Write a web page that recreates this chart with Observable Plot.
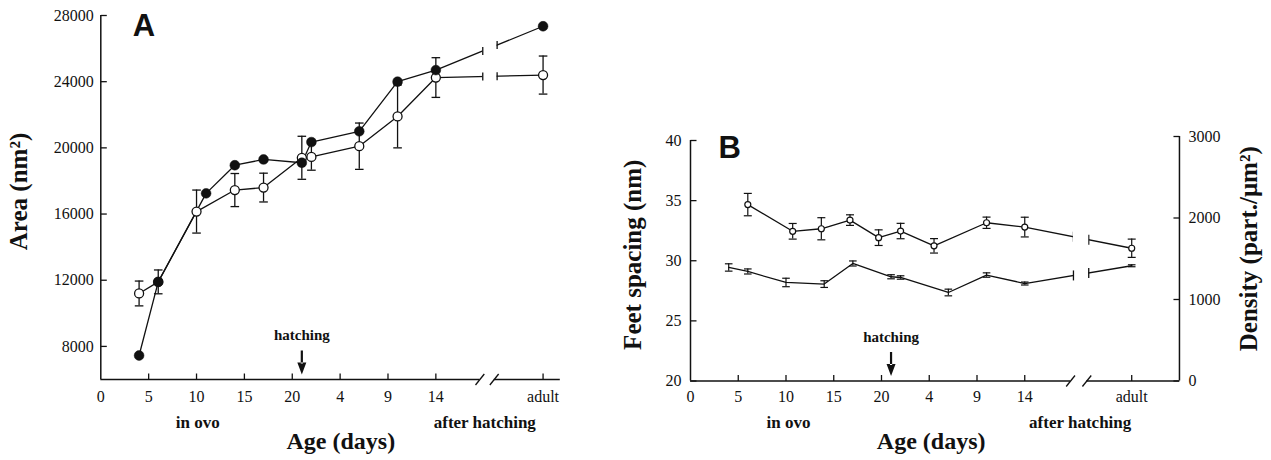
<!DOCTYPE html>
<html><head><meta charset="utf-8">
<script src="https://cdn.jsdelivr.net/npm/d3@7"></script>
<script src="https://cdn.jsdelivr.net/npm/@observablehq/plot@0.6"></script>
<style>
body{margin:0;background:#fff;}
#wrap{position:relative;width:1271px;height:460px;overflow:hidden;background:#fff;}
#wrap svg{position:absolute;top:0;overflow:visible;}
</style></head><body><div id="wrap"></div>
<script>
// ---------------- data ----------------
const xTickDays = [0, 5, 10, 15, 20, 25, 30, 35, 46.2];
const xTickLabels = ["0", "5", "10", "15", "20", "4", "9", "14", "adult"];
const hatchDay = 21;

// Panel A : Area (nm²)
const areaTicks = [8000, 12000, 16000, 20000, 24000, 28000];
const areaFilledDays = [4, 6, 11, 14, 17, 21, 22, 27, 31, 35, 46.2];
const areaFilled = [7450, 11900, 17250, 18950, 19300, 19100, 20350, 21000, 24000, 24700, 27350];
const areaOpenDays = [4, 6, 10, 14, 17, 21, 22, 27, 31, 35, 46.2];
const areaOpen = [11200, 11900, 16150, 17450, 17600, 19400, 19450, 20100, 21900, 24250, 24400];
const areaOpenErr = [750, 720, 1300, 1000, 870, 1300, 800, 1400, 1900, 1200, 1150];

// Panel B : Feet spacing (nm), left axis
const spacingTicks = [20, 25, 30, 35, 40];
const spacingDays = [6, 10.7, 13.7, 16.7, 19.7, 22, 25.5, 31, 35, 46.2];
const spacing = [34.67, 32.45, 32.66, 33.38, 31.92, 32.47, 31.24, 33.16, 32.8, 31.04];
const spacingErr = [0.93, 0.65, 0.92, 0.44, 0.65, 0.64, 0.6, 0.47, 0.82, 0.76];

// Panel B : Density (part./µm²), right axis
const densityTicks = [0, 1000, 2000, 3000];
const densityDays = [4, 6, 10, 14, 17, 21, 22, 27, 31, 35, 46.2];
const density = [1393, 1344, 1209, 1189, 1442, 1279, 1270, 1086, 1300, 1196, 1414];
const densityErr = [45, 31, 52, 41, 31, 25, 21, 41, 27, 18, 12];

// axis / line breaks (in days)
const axisBreakA = [39.6, 41.1], lineBreakA = [39.9, 41.4];
const axisBreakB = [39.8, 41.5], lineBreakB = [40.1, 41.7];
const xEndA = 48.0, xEndB = 51.2;

// ---------------- helpers ----------------
const rows = (days, vals, errs) => days.map((d, i) => ({d, v: vals[i], e: errs ? errs[i] : 0}));
const caps = (r) => r.flatMap(o => [{d: o.d, v: o.v - o.e}, {d: o.d, v: o.v + o.e}]);
const lineAt = (r, x) => { const a = r[r.length - 2], b = r[r.length - 1]; return a.v + (b.v - a.v) * (x - a.d) / (b.d - a.d); };
const breakTicks = (r, br) => br.map(x => ({d: x, v: lineAt(r, x)}));
const R = (s) => Math.sqrt(s / Math.PI);
const symV = {draw(c, s) { const h = R(s); c.moveTo(0, -h); c.lineTo(0, h); }};
const symH = {draw(c, s) { const h = R(s); c.moveTo(-h, 0); c.lineTo(h, 0); }};
const symUp = {draw(c, s) { const h = R(s); c.moveTo(0, 0); c.lineTo(0, -h); }};
const symRight = {draw(c, s) { const h = R(s); c.moveTo(0, 0); c.lineTo(h, 0); }};
const symLeft = {draw(c, s) { const h = R(s); c.moveTo(0, 0); c.lineTo(-h, 0); }};
const symSlash = {draw(c, s) { const h = R(s); c.moveTo(-0.8 * h, h); c.lineTo(0.8 * h, -h); }};
const symArrow = {draw(c, s) {
  c.moveTo(0, 0); c.lineTo(-4.5, -12); c.lineTo(4.5, -12); c.closePath();
  c.moveTo(-1.1, -11); c.lineTo(1.1, -11); c.lineTo(1.1, -24); c.lineTo(-1.1, -24); c.closePath();
}};
const serif = "'Liberation Serif', 'Times New Roman', serif";
const sans = "'Liberation Sans', Arial, sans-serif";
const K = "#111";
const TICK_FS = 16;

function xAxisMarks(yMin, axisBreak, xEnd, tickDy) {
  return [
    Plot.ruleY([[0, axisBreak[0]], [axisBreak[1], xEnd]], {y: () => yMin, x1: d => d[0], x2: d => d[1], stroke: K, strokeWidth: 1.7}),
    Plot.dot(axisBreak, {x: d => d, frameAnchor: "bottom", symbol: symSlash, r: 5.5, stroke: K, strokeWidth: 1.3, fill: "none"}),
    Plot.dot(xTickDays.slice(1), {x: d => d, frameAnchor: "bottom", symbol: symUp, r: 6, stroke: K, strokeWidth: 1.3, fill: "none"}),
    Plot.text(xTickDays, {x: d => d, text: (d, i) => xTickLabels[i], frameAnchor: "bottom", dy: tickDy, lineAnchor: "bottom", fontSize: TICK_FS, fontFamily: serif, fill: K})
  ];
}

// ---------------- Panel A ----------------
const aFilled = rows(areaFilledDays, areaFilled);
const aOpen = rows(areaOpenDays, areaOpen, areaOpenErr);

const plotA = Plot.plot({
  width: 640, height: 460,
  marginLeft: 100.3, marginRight: 640 - 100.3 - 9.573 * xEndA, marginTop: 15, marginBottom: 81,
  x: {domain: [0, xEndA], axis: null},
  y: {domain: [6000, 28000], axis: null},
  style: {background: "transparent", overflow: "visible", fontFamily: serif},
  marks: [
    Plot.line(aOpen, {x: "d", y: "v", stroke: K, strokeWidth: 1.3}),
    Plot.line(aFilled, {x: "d", y: "v", stroke: K, strokeWidth: 1.3}),
    Plot.rect([lineBreakA], {x1: d => d[0], x2: d => d[1], fill: "white", insetBottom: 14}),
    Plot.dot([...breakTicks(aOpen, lineBreakA), ...breakTicks(aFilled, lineBreakA)], {x: "d", y: "v", symbol: symV, r: 4, stroke: K, strokeWidth: 1.3, fill: "none"}),
    Plot.ruleX(aOpen, {x: "d", y1: d => d.v - d.e, y2: d => d.v + d.e, stroke: K, strokeWidth: 1.3}),
    Plot.dot(caps(aOpen), {x: "d", y: "v", symbol: symH, r: 4.3, stroke: K, strokeWidth: 1.3, fill: "none"}),
    Plot.dot(aOpen, {x: "d", y: "v", r: 4.5, fill: "white", stroke: K, strokeWidth: 1.3}),
    Plot.dot(aFilled, {x: "d", y: "v", r: 4.9, fill: K, stroke: K, strokeWidth: 0.5}),
    // axes
    Plot.ruleX([0], {stroke: K, strokeWidth: 1.5}),
    Plot.dot(areaTicks, {y: d => d, frameAnchor: "left", symbol: symRight, r: 6, stroke: K, strokeWidth: 1.3, fill: "none"}),
    Plot.text(areaTicks, {y: d => d, text: d => String(d), frameAnchor: "left", dx: -7, textAnchor: "end", lineAnchor: "middle", fontSize: TICK_FS, fontFamily: serif, fill: K}),
    ...xAxisMarks(6000, axisBreakA, xEndA, 22),
    // hatching
    Plot.dot([hatchDay], {x: d => d, frameAnchor: "bottom", dy: -5, symbol: symArrow, r: 5, fill: K, stroke: "none"}),
    Plot.text(["hatching"], {x: () => hatchDay, text: d => d, frameAnchor: "bottom", dy: -40, lineAnchor: "bottom", fontSize: 15, fontWeight: "bold", fontFamily: serif, fill: K}),
    // labels
    Plot.text(["in ovo"], {text: d => d, frameAnchor: "bottom-left", dx: 97, dy: 48, textAnchor: "middle", lineAnchor: "bottom", fontSize: 17, fontWeight: "bold", fontFamily: serif, fill: K}),
    Plot.text(["after hatching"], {text: d => d, frameAnchor: "bottom-left", dx: 384, dy: 48, textAnchor: "middle", lineAnchor: "bottom", fontSize: 17, fontWeight: "bold", fontFamily: serif, fill: K}),
    Plot.text(["Age (days)"], {text: d => d, frameAnchor: "bottom-left", dx: 240, dy: 69, textAnchor: "middle", lineAnchor: "bottom", fontSize: 24, fontWeight: "bold", fontFamily: serif, fill: K}),
    Plot.text(["Area (nm²)"], {text: d => d, frameAnchor: "left", dx: -73.5, dy: -6, rotate: -90, textAnchor: "middle", lineAnchor: "bottom", fontSize: 25, fontWeight: "bold", fontFamily: serif, fill: K}),
    Plot.text(["A"], {text: d => d, frameAnchor: "top-left", dx: 32, dy: 20, textAnchor: "start", lineAnchor: "bottom", fontSize: 31, fontWeight: "bold", fontFamily: sans, fill: K})
  ]
});
plotA.style.left = "0px";

// ---------------- Panel B ----------------
const bW = 671, bLeft = 90, bScale = 9.55;
const bRight = bW - bLeft - bScale * xEndB;
const bSpacing = rows(spacingDays, spacing, spacingErr);
const bDensity = rows(densityDays, density, densityErr);

const plotBL = Plot.plot({
  width: bW, height: 460,
  marginLeft: bLeft, marginRight: bRight, marginTop: 140, marginBottom: 79.5,
  x: {domain: [0, xEndB], axis: null},
  y: {domain: [20, 40], axis: null},
  style: {background: "transparent", overflow: "visible", fontFamily: serif},
  marks: [
    Plot.line(bSpacing, {x: "d", y: "v", stroke: K, strokeWidth: 1.3}),
    Plot.rect([lineBreakB], {x1: d => d[0], x2: d => d[1], fill: "white", insetBottom: 14}),
    Plot.dot(breakTicks(bSpacing, lineBreakB), {x: "d", y: "v", symbol: symV, r: 5, stroke: K, strokeWidth: 1.3, fill: "none"}),
    Plot.ruleX(bSpacing, {x: "d", y1: d => d.v - d.e, y2: d => d.v + d.e, stroke: K, strokeWidth: 1.2}),
    Plot.dot(caps(bSpacing), {x: "d", y: "v", symbol: symH, r: 4, stroke: K, strokeWidth: 1.2, fill: "none"}),
    Plot.dot(bSpacing, {x: "d", y: "v", r: 3, fill: "white", stroke: K, strokeWidth: 1.2}),
    // axes
    Plot.ruleX([0], {stroke: K, strokeWidth: 1.5}),
    Plot.dot(spacingTicks, {y: d => d, frameAnchor: "left", symbol: symRight, r: 6, stroke: K, strokeWidth: 1.3, fill: "none"}),
    Plot.text(spacingTicks, {y: d => d, text: d => String(d), frameAnchor: "left", dx: -9, textAnchor: "end", lineAnchor: "middle", fontSize: TICK_FS, fontFamily: serif, fill: K}),
    ...xAxisMarks(20, axisBreakB, xEndB, 20.5),
    Plot.dot([hatchDay], {x: d => d, frameAnchor: "bottom", dy: -5, symbol: symArrow, r: 5, fill: K, stroke: "none"}),
    Plot.text(["hatching"], {x: () => hatchDay, text: d => d, frameAnchor: "bottom", dy: -39, lineAnchor: "bottom", fontSize: 15, fontWeight: "bold", fontFamily: serif, fill: K}),
    Plot.text(["in ovo"], {text: d => d, frameAnchor: "bottom-left", dx: 98, dy: 46.5, textAnchor: "middle", lineAnchor: "bottom", fontSize: 17, fontWeight: "bold", fontFamily: serif, fill: K}),
    Plot.text(["after hatching"], {text: d => d, frameAnchor: "bottom-left", dx: 389.7, dy: 46.5, textAnchor: "middle", lineAnchor: "bottom", fontSize: 17, fontWeight: "bold", fontFamily: serif, fill: K}),
    Plot.text(["Age (days)"], {text: d => d, frameAnchor: "bottom-left", dx: 240.7, dy: 68, textAnchor: "middle", lineAnchor: "bottom", fontSize: 24, fontWeight: "bold", fontFamily: serif, fill: K}),
    Plot.text(["Feet spacing (nm)"], {text: d => d, frameAnchor: "left", dx: -50, dy: -6, rotate: -90, textAnchor: "middle", lineAnchor: "bottom", fontSize: 25, fontWeight: "bold", fontFamily: serif, fill: K}),
    Plot.text(["B"], {text: d => d, frameAnchor: "top-left", dx: 28, dy: 17, textAnchor: "start", lineAnchor: "bottom", fontSize: 31, fontWeight: "bold", fontFamily: sans, fill: K})
  ]
});
plotBL.style.left = "600px";

const plotBR = Plot.plot({
  width: bW, height: 460,
  marginLeft: bLeft, marginRight: bRight, marginTop: 136, marginBottom: 79.5,
  x: {domain: [0, xEndB], axis: null},
  y: {domain: [0, 3000], axis: null},
  style: {background: "transparent", overflow: "visible", fontFamily: serif},
  marks: [
    Plot.line(bDensity, {x: "d", y: "v", stroke: K, strokeWidth: 1.3}),
    Plot.rect([lineBreakB], {x1: d => d[0], x2: d => d[1], y1: () => 800, y2: () => 2000, fill: "white"}),
    Plot.dot(breakTicks(bDensity, lineBreakB), {x: "d", y: "v", symbol: symV, r: 5, stroke: K, strokeWidth: 1.3, fill: "none"}),
    Plot.ruleX(bDensity, {x: "d", y1: d => d.v - d.e, y2: d => d.v + d.e, stroke: K, strokeWidth: 1.2}),
    Plot.dot(caps(bDensity), {x: "d", y: "v", symbol: symH, r: 3.8, stroke: K, strokeWidth: 1.2, fill: "none"}),
    // right axis
    Plot.ruleX([xEndB], {stroke: K, strokeWidth: 1.5}),
    Plot.dot(densityTicks, {y: d => d, frameAnchor: "right", symbol: symLeft, r: 6, stroke: K, strokeWidth: 1.3, fill: "none"}),
    Plot.text(densityTicks, {y: d => d, text: d => String(d), frameAnchor: "right", dx: 9, textAnchor: "start", lineAnchor: "middle", fontSize: TICK_FS, fontFamily: serif, fill: K}),
    Plot.text(["Density (part./μm²)"], {text: d => d, frameAnchor: "right", dx: 77.5, dy: -10, rotate: -90, textAnchor: "middle", lineAnchor: "bottom", fontSize: 25, fontWeight: "bold", fontFamily: serif, fill: K})
  ]
});
plotBR.style.left = "600px";

const wrap = document.getElementById("wrap");
wrap.append(plotA, plotBL, plotBR);
</script></body></html>
